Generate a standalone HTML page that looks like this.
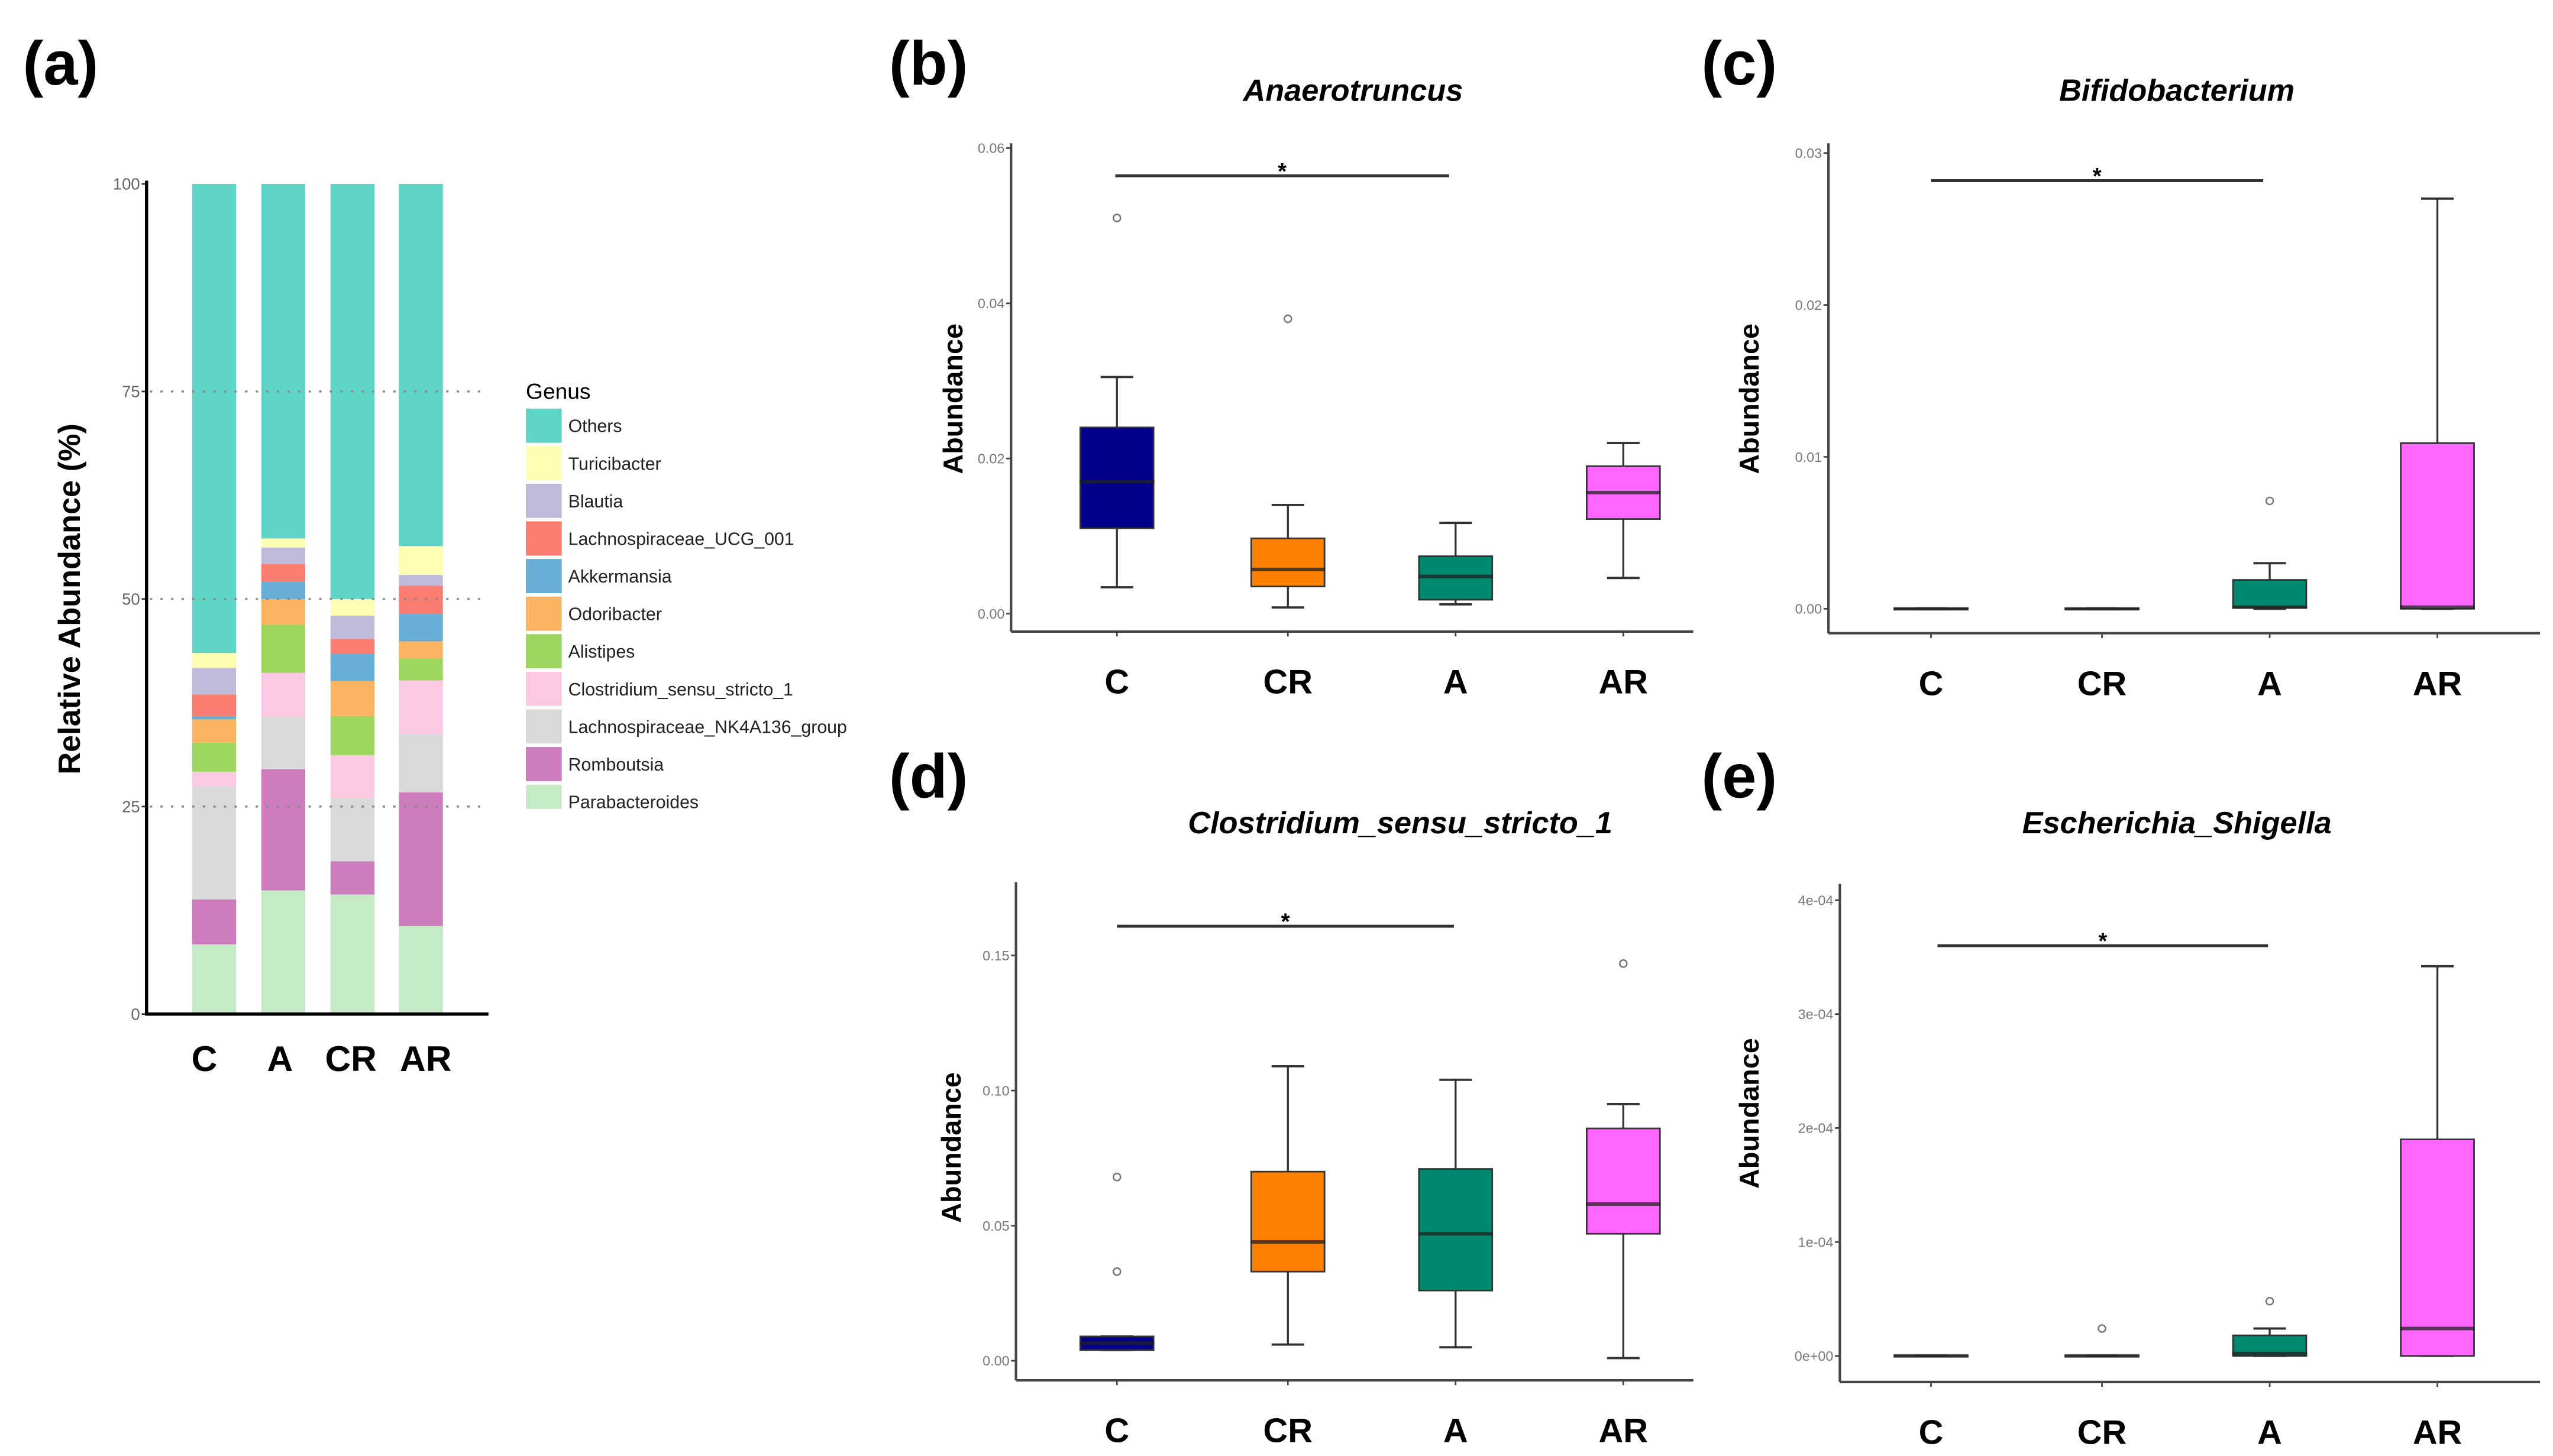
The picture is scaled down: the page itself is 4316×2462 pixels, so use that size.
<!DOCTYPE html>
<html><head><meta charset="utf-8"><title>Genus abundance figure</title>
<style>
html,body{margin:0;padding:0;background:#fff;}
svg{display:block;font-family:"Liberation Sans",sans-serif;}
</style></head>
<body>
<svg id="fig" xmlns="http://www.w3.org/2000/svg" width="4316" height="2462" viewBox="0 0 1568 894.5" preserveAspectRatio="none">
<rect x="0" y="0" width="1568" height="894.5" fill="#fff"/>
<g font-weight="bold" font-size="38" fill="#000">
<text x="14" y="52">(a)</text>
<text x="546" y="52">(b)</text>
<text x="1045" y="52">(c)</text>
<text x="546" y="490">(d)</text>
<text x="1045" y="490">(e)</text>
</g>
<g id="pa"></g>
<g id="pb"></g>
<g id="pc"></g>
<g id="pd"></g>
<g id="pe"></g>
</svg>
<script>
// ---------- Panel (a) data ----------
const barGroups = ["C","A","CR","AR"];
const genera = ["Parabacteroides","Romboutsia","Lachnospiraceae_NK4A136_group","Clostridium_sensu_stricto_1","Alistipes","Odoribacter","Akkermansia","Lachnospiraceae_UCG_001","Blautia","Turicibacter","Others"];
const genusColors = ["#c4ebc6","#cc7bbd","#d9d9d9","#fcc9e3","#9cd65e","#fdb462","#66aed6","#fb7c70","#bebada","#ffffb3","#5ed5c6"];
const valC  = [8.4,5.4,13.6,1.8,3.5,2.8,0.4,2.6,3.2,1.8];
const valA  = [14.9,14.6,6.3,5.3,5.8,3.1,2.1,2.1,2.0,1.1];
const valCR = [14.4,4.0,7.6,5.2,4.7,4.2,3.3,1.8,2.8,2.0];
const valAR = [10.6,16.1,7.0,6.5,2.6,2.1,3.3,3.4,1.3,3.5];
const pctTicks = [0,25,50,75,100];

// ---------- Boxplot data (lo, q1, med, q3, hi) ----------
const boxGroups = ["C","CR","A","AR"];
const boxColors = ["#00008b","#ff7f00","#00896e","#ff66ff"];
const anaeroLo=[0.0034,0.0008,0.0012,0.0046], anaeroQ1=[0.011,0.0035,0.0018,0.0122], anaeroMed=[0.017,0.0057,0.0048,0.0156], anaeroQ3=[0.024,0.0097,0.0074,0.019], anaeroHi=[0.0305,0.014,0.0117,0.022];
const anaeroOut=[[0.051],[0.038],[],[]];
const anaeroTicks=[0,0.02,0.04,0.06], anaeroTickLabels=["0.00","0.02","0.04","0.06"];
const bifidoLo=[0,0,0,0], bifidoQ1=[0,0,0.0001,0], bifidoMed=[0,0,0.0001,0.0001], bifidoQ3=[0,0,0.0019,0.0109], bifidoHi=[0,0,0.003,0.027];
const bifidoOut=[[],[],[0.0071],[]];
const bifidoTicks=[0,0.01,0.02,0.03], bifidoTickLabels=["0.00","0.01","0.02","0.03"];
const clostLo=[0.004,0.006,0.005,0.001], clostQ1=[0.004,0.033,0.026,0.047], clostMed=[0.0065,0.044,0.047,0.058], clostQ3=[0.009,0.070,0.071,0.086], clostHi=[0.009,0.109,0.104,0.095];
const clostOut=[[0.033,0.068],[],[],[0.147]];
const clostTicks=[0,0.05,0.10,0.15], clostTickLabels=["0.00","0.05","0.10","0.15"];
const escheLo=[0,0,0,0], escheQ1=[0,0,0,0], escheMed=[0,0,0.000002,0.000024], escheQ3=[0,0,0.000018,0.00019], escheHi=[0,0,0.000024,0.000342];
const escheOut=[[],[0.000024],[0.000048],[]];
const escheTicks=[0,0.0001,0.0002,0.0003,0.0004], escheTickLabels=["0e+00","1e-04","2e-04","3e-04","4e-04"];

const NS="http://www.w3.org/2000/svg";
function mk(parent,tag,attrs,text){const e=document.createElementNS(NS,tag);for(const k in attrs)e.setAttribute(k,attrs[k]);if(text!==undefined)e.textContent=text;parent.appendChild(e);return e;}

// ---------- Panel (a) ----------
(function(){
  const g=document.getElementById('pa');
  const y0=623,y100=113,ax=90;
  const yS=v=>y0-(v/100)*(y0-y100);
  const centers=[131.5,174,216.5,258.5], bw=27;
  const labelShift=[-6,-2,-1,3];
  pctTicks.forEach(t=>{
    const lab=mk(g,'text',{x:ax-4,y:yS(t)+3.5,'text-anchor':'end','font-size':10,fill:'#666'},String(t));
    
    
    mk(g,'line',{x1:ax-3,x2:ax,y1:yS(t),y2:yS(t),stroke:'#333','stroke-width':1});
  });
  const vals=[valC,valA,valCR,valAR];
  vals.forEach((arr,i)=>{
    let cum=0;
    const stacks=arr.concat([100-arr.reduce((a,b)=>a+b,0)]);
    stacks.forEach((v,j)=>{
      const r=mk(g,'rect',{x:centers[i]-bw/2,y:yS(cum+v),width:bw,height:yS(cum)-yS(cum+v),fill:genusColors[j]});
      
      
      cum+=v;
    });
    const xl=mk(g,'text',{x:centers[i]+labelShift[i],y:658,'text-anchor':'middle','font-size':22,'font-weight':'bold'},barGroups[i]);
    
    
  });
  [25,50,75].forEach(t=>{
    const l=mk(g,'line',{x1:ax+2,x2:300,y1:yS(t),y2:yS(t),stroke:'#888','stroke-width':1.2,'stroke-dasharray':'1.5,5'});
    
    
  });
  mk(g,'line',{x1:ax,x2:ax,y1:y100-2,y2:y0+1,stroke:'#000','stroke-width':2});
  mk(g,'line',{x1:ax-1,x2:300,y1:y0,y2:y0,stroke:'#000','stroke-width':2});
  const yt=mk(g,'text',{x:0,y:0,transform:'translate(49,368) rotate(-90)','text-anchor':'middle','font-size':19,'font-weight':'bold'},'Relative Abundance (%)');
  
  
  const lt=mk(g,'text',{x:323,y:245,'font-size':13.5},'Genus');
  
  
  const clip=mk(g,'clipPath',{id:'legclip'});
  mk(clip,'rect',{x:300,y:230,width:260,height:267});
  const lg=mk(g,'g',{'clip-path':'url(#legclip)'});
  const order=genera.slice().reverse(), cols=genusColors.slice().reverse();
  order.forEach((n,k)=>{
    const yy=251+k*23.1;
    const ent=mk(lg,'g',{});
    
    
    mk(ent,'rect',{x:323,y:yy,width:22,height:21,fill:cols[k]});
    mk(ent,'text',{x:349,y:yy+14.5,'font-size':11,fill:'#222'},n);
  });
})();

// ---------- Boxplots ----------
function boxplot(id,cfg){
  const g=document.getElementById(id);
  const yS=v=>cfg.y0px+(v-0)/(cfg.tickVals[cfg.tickVals.length-1])*(cfg.ytopPx-cfg.y0px);
  const xs=cfg.xs, bw=46;
  const t=mk(g,'text',{x:cfg.titleX,y:cfg.titleY,'text-anchor':'middle','font-size':19,'font-weight':'bold','font-style':'italic'},cfg.title);
  
  
  const yl=mk(g,'text',{x:0,y:0,transform:'translate('+cfg.ylabX+','+cfg.ylabY+') rotate(-90)','text-anchor':'middle','font-size':17,'font-weight':'bold'},'Abundance');
  
  
  cfg.tickVals.forEach((v,i)=>{
    const yy=yS(v);
    mk(g,'line',{x1:cfg.ax-3,x2:cfg.ax,y1:yy,y2:yy,stroke:'#444','stroke-width':1});
    const tl=mk(g,'text',{x:cfg.ax-4,y:yy+3,'text-anchor':'end','font-size':8.5,fill:'#777'},cfg.tickLabels[i]);
    
    
  });
  mk(g,'line',{x1:cfg.ax,x2:cfg.ax,y1:cfg.axTop,y2:cfg.axY,stroke:'#444','stroke-width':1.5});
  mk(g,'line',{x1:cfg.ax,x2:cfg.axRight,y1:cfg.axY,y2:cfg.axY,stroke:'#444','stroke-width':1.5});
  boxGroups.forEach((n,i)=>{
    const x=xs[i];
    mk(g,'line',{x1:x,x2:x,y1:cfg.axY,y2:cfg.axY+3,stroke:'#444','stroke-width':1});
    const xl=mk(g,'text',{x:x,y:cfg.axY+38,'text-anchor':'middle','font-size':21,'font-weight':'bold'},n);
    
    
    const bx=mk(g,'g',{});
    
    
    const lo=yS(cfg.lo[i]),q1=yS(cfg.q1[i]),md=yS(cfg.med[i]),q3=yS(cfg.q3[i]),hi=yS(cfg.hi[i]);
    mk(bx,'line',{x1:x,x2:x,y1:hi,y2:q3,stroke:'#333','stroke-width':1.2});
    mk(bx,'line',{x1:x,x2:x,y1:q1,y2:lo,stroke:'#333','stroke-width':1.2});
    mk(bx,'line',{x1:x-10,x2:x+10,y1:hi,y2:hi,stroke:'#333','stroke-width':1.4});
    mk(bx,'line',{x1:x-10,x2:x+10,y1:lo,y2:lo,stroke:'#333','stroke-width':1.4});
    mk(bx,'rect',{x:x-bw/2+0.5,y:q3,width:bw-1,height:Math.max(q1-q3,0.1),fill:boxColors[i],stroke:'#333','stroke-width':1});
    mk(bx,'line',{x1:x-bw/2,x2:x+bw/2,y1:md,y2:md,stroke:'#222','stroke-width':2.2,opacity:0.75});
    cfg.out[i].forEach(o=>{
      const c=mk(bx,'circle',{cx:x,cy:yS(o),r:2.2,fill:'none',stroke:'#777','stroke-width':0.9});
      
      
    });
  });
  const sg=mk(g,'g',{});
  
  
  mk(sg,'line',{x1:cfg.sig[0],x2:cfg.sig[1],y1:cfg.sigY,y2:cfg.sigY,stroke:'#333','stroke-width':1.8});
  mk(sg,'text',{x:(cfg.sig[0]+cfg.sig[1])/2,y:cfg.sigY+2,'text-anchor':'middle','font-size':14,'font-weight':'bold'},'*');
}
const xsL=[686,791,894,997], xsR=[1186,1291,1394,1497];
boxplot('pb',{title:'Anaerotruncus',titleX:831,titleY:62,ylabX:591,ylabY:245,ax:621,axTop:88,axY:388,axRight:1040,y0px:377,ytopPx:91,
  tickVals:anaeroTicks,tickLabels:anaeroTickLabels,xs:xsL,lo:anaeroLo,q1:anaeroQ1,med:anaeroMed,q3:anaeroQ3,hi:anaeroHi,out:anaeroOut,sig:[685,890],sigY:108});
boxplot('pc',{title:'Bifidobacterium',titleX:1337,titleY:62,ylabX:1080,ylabY:245,ax:1123,axTop:88,axY:389,axRight:1560,y0px:374,ytopPx:94,
  tickVals:bifidoTicks,tickLabels:bifidoTickLabels,xs:xsR,lo:bifidoLo,q1:bifidoQ1,med:bifidoMed,q3:bifidoQ3,hi:bifidoHi,out:bifidoOut,sig:[1186,1390],sigY:111});
boxplot('pd',{title:'Clostridium_sensu_stricto_1',titleX:860,titleY:512,ylabX:590,ylabY:705,ax:624,axTop:542,axY:848,axRight:1040,y0px:836,ytopPx:587,
  tickVals:clostTicks,tickLabels:clostTickLabels,xs:xsL,lo:clostLo,q1:clostQ1,med:clostMed,q3:clostQ3,hi:clostHi,out:clostOut,sig:[686,893],sigY:569});
boxplot('pe',{title:'Escherichia_Shigella',titleX:1337,titleY:512,ylabX:1080,ylabY:684,ax:1130,axTop:543,axY:849,axRight:1560,y0px:833,ytopPx:553,
  tickVals:escheTicks,tickLabels:escheTickLabels,xs:xsR,lo:escheLo,q1:escheQ1,med:escheMed,q3:escheQ3,hi:escheHi,out:escheOut,sig:[1190,1393],sigY:581});
</script>
</body></html>
